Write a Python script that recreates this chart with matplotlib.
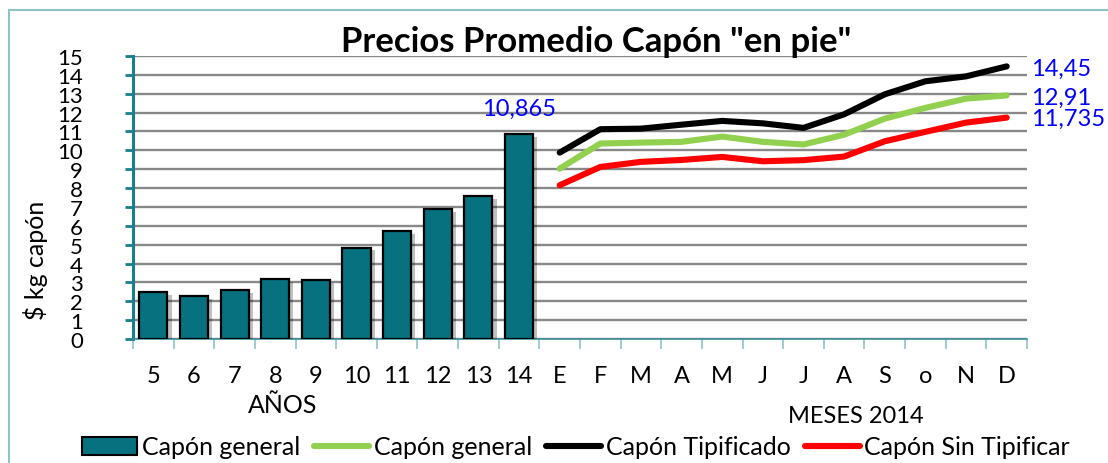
import matplotlib
matplotlib.use("Agg")
import matplotlib.pyplot as plt
import matplotlib.patheffects as pe
from matplotlib.patches import Rectangle
from matplotlib.lines import Line2D
from matplotlib.patches import Patch

plt.rcParams['font.family'] = ['Lato', 'DejaVu Sans']

# ---- data ----
years = ["5", "6", "7", "8", "9", "10", "11", "12", "13", "14"]
bar_values = [2.47, 2.29, 2.61, 3.18, 3.11, 4.84, 5.72, 6.88, 7.59, 10.865]
months = ["E", "F", "M", "A", "M", "J", "J", "A", "S", "o", "N", "D"]
tipificado = [9.88, 11.12, 11.15, 11.36, 11.56, 11.43, 11.19, 11.91, 12.97, 13.66, 13.92, 14.45]
general = [9.03, 10.36, 10.41, 10.45, 10.73, 10.45, 10.31, 10.83, 11.68, 12.25, 12.74, 12.91]
sin_tipificar = [8.15, 9.12, 9.39, 9.49, 9.65, 9.42, 9.48, 9.67, 10.48, 10.98, 11.47, 11.735]
bar_label = "10,865"
end_labels = ["14,45", "12,91", "11,735"]

W, H = 1108, 464
fig = plt.figure(figsize=(W / 100, H / 100), dpi=100)

# outer frame
fig.patches.append(Rectangle((9 / W, -0.1), 1.2, 1 - 11 / H + 0.1, transform=fig.transFigure,
                             fill=False, edgecolor='#8cc4c8', linewidth=1.5))

ax = fig.add_axes([133 / W, 1 - 340 / H, (1027 - 133) / W, (340 - 57) / H])
ax.set_facecolor('none')

cats = years + months
n = len(cats)
xb = list(range(len(years)))
xl = list(range(len(years), n))

teal = '#07717f'
bars = ax.bar(xb, bar_values, width=0.69, color=teal, edgecolor='black', linewidth=1.6, zorder=3)
for b in bars:
    b.set_path_effects([pe.SimplePatchShadow(offset=(3, -2), shadow_rgbFace='black', alpha=0.25),
                        pe.Normal()])

lw = 4.4
ax.plot(xl, tipificado, color='black', lw=lw, solid_capstyle='round', solid_joinstyle='round', zorder=4)
ax.plot(xl, general, color='#92d050', lw=lw, solid_capstyle='round', solid_joinstyle='round', zorder=4)
ax.plot(xl, sin_tipificar, color='#ff0000', lw=lw, solid_capstyle='round', solid_joinstyle='round', zorder=4)

ax.set_xlim(-0.5, n - 0.5)
ax.set_ylim(0, 15)
ax.set_yticks(range(0, 16))
ax.set_yticklabels([str(v) for v in range(0, 16)])
ax.yaxis.grid(True, color='#888888', linewidth=1.7, zorder=0)
ax.set_axisbelow(True)

for s in ['top', 'right']:
    ax.spines[s].set_visible(False)
ax.spines['left'].set_color('#17808c')
ax.spines['left'].set_linewidth(2.2)
ax.spines['bottom'].set_color('#3a8f99')
ax.spines['bottom'].set_linewidth(1.2)
ax.tick_params(axis='y', direction='out', length=6, width=2, color='#17808c', pad=30, labelsize=16)

ax.set_xticks(range(n))
ax.set_xticklabels(cats)
ax.tick_params(axis='x', which='major', length=0, pad=19, labelsize=17)
ax.set_xticks([i - 0.5 for i in range(n + 1)], minor=True)
ax.tick_params(axis='x', which='minor', direction='out', length=7, width=1.2, color='#8cc4c8')

# data labels
ax.annotate(bar_label, xy=(xb[-1], bar_values[-1]), xytext=(0, 26), textcoords='offset pixels',
            ha='center', va='center', color='#0000ff', fontsize=17)
for lab, yp in zip(end_labels, [69, 98, 119]):
    fig.text(1031 / W, 1 - yp / H, lab, ha='left', va='center', color='#0000ff', fontsize=17)

ax.set_ylabel("$ kg capón", fontsize=18)
ax.yaxis.set_label_coords((48 - 133) / (1027 - 133), (340 - 260) / (340 - 57))

fig.text(596 / W, 1 - 42 / H, 'Precios Promedio Capón "en pie"', ha='center', va='center',
         fontsize=25, fontweight='bold')
fig.text(283 / W, 1 - 406 / H, "AÑOS", ha='center', va='center', fontsize=18)
fig.text(856 / W, 1 - 417 / H, "MESES 2014", ha='center', va='center', fontsize=17)

handles = [Patch(facecolor=teal, edgecolor='black', linewidth=1.5),
           Line2D([], [], color='#92d050', lw=lw, solid_capstyle='round'),
           Line2D([], [], color='black', lw=lw, solid_capstyle='round'),
           Line2D([], [], color='#ff0000', lw=lw, solid_capstyle='round')]
labels = ["Capón general", "Capón general", "Capón Tipificado", "Capón Sin Tipificar"]
fig.legend(handles, labels, loc='center', bbox_to_anchor=(576 / W, 1 - 448 / H), ncol=4,
           frameon=False, fontsize=18, handlelength=2.2, handleheight=0.7, handletextpad=0.2,
           columnspacing=0.55, borderpad=0)

fig.savefig("out.png", dpi=100)
